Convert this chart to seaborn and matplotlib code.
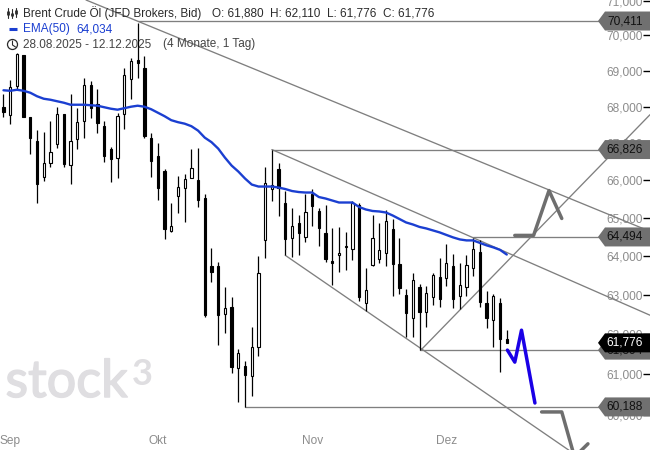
import matplotlib
matplotlib.use("Agg")
import matplotlib.pyplot as plt
import matplotlib.patheffects as pe
from matplotlib.patches import Polygon, Circle
from matplotlib.ticker import NullLocator
from matplotlib.transforms import Affine2D
import pandas as pd
import seaborn as sns

# Candles, index 0 = first visible session
opens = [68000, 67780, 68581, 69449, 67725, 67068, 66096, 66473, 66987, 67808, 66419, 67123, 67615, 68609, 68083, 67478,
         66852, 66608, 67808, 68776, 69308, 69084, 67150, 66662, 66258, 64639, 65589, 65802, 66070, 66016, 65536, 63728,
         63728, 62499, 62677, 61146, 61195, 60948, 61669, 64403, 65776, 66312, 65403, 64455, 64848, 64482, 65642, 65165,
         64587, 63857, 64013, 64221, 64169, 65324, 62779, 63754, 63909, 64065, 64691, 63780, 62983, 62398, 63188, 62550,
         62932, 63444, 63419, 63728, 62958, 63188, 63677, 64091, 62779, 62347, 62779, 61880]
highs = [68359, 68748, 69500, 69449, 67725, 67369, 67314, 67615, 68000, 67808, 68359, 67973, 68804, 68720, 68498, 67615,
         66906, 67835, 69084, 69365, 70356, 69421, 67287, 67014, 66312, 65403, 66123, 66177, 66852, 66879, 65642, 64195,
         63831, 63188, 62932, 61619, 61319, 62171, 63987, 66365, 66826, 66473, 65722, 65244, 65059, 65642, 65776, 65244,
         65350, 64717, 64743, 64613, 65456, 65377, 63677, 65059, 64848, 65191, 64954, 64455, 63137, 63548, 63265, 63214,
         63548, 63935, 64299, 64039, 63805, 64013, 64455, 64403, 63086, 63009, 62906, 62110]
lows = [67725, 67533, 68498, 67725, 66716, 65403, 65989, 66365, 66879, 66365, 65909, 66852, 67150, 67698, 67287, 66500,
        65962, 66070, 67396, 68221, 68804, 67150, 66096, 65483, 64429, 64613, 65112, 64875, 66070, 65271, 62423, 63316,
        61719, 62020, 61022, 60308, 60188, 60455, 61444, 63935, 65430, 65033, 64013, 63961, 64013, 64351, 64770, 64247,
        63831, 63239, 63574, 63625, 63883, 62830, 62576, 63728, 63805, 63728, 62958, 63009, 61919, 61919, 61594, 62171,
        62728, 62677, 63214, 62652, 62626, 62958, 63470, 62677, 62146, 61669, 61047, 61776]
closes = [67863, 68554, 69477, 67725, 67150, 65909, 66473, 66770, 67808, 66446, 67068, 67588, 68609, 67973, 67560, 66662,
          66581, 67753, 68888, 69280, 69224, 67205, 66527, 65802, 64691, 64770, 65829, 66043, 66339, 65483, 62474, 63574,
          62474, 62652, 61170, 61519, 60973, 61669, 63548, 65936, 65882, 65802, 64429, 64770, 64587, 65138, 65297, 64717,
          63909, 63805, 64065, 64247, 65403, 62932, 63111, 64455, 64143, 64901, 63780, 63162, 62525, 63367, 62550, 63035,
          63496, 62881, 63805, 62881, 63239, 63754, 64169, 62804, 62398, 62958, 61869, 61776]
ema50 = [68456, 68442, 68470, 68442, 68387, 68290, 68221, 68193, 68151, 68110, 68055, 68055, 68055, 68041, 68028, 67986,
         67945, 67918, 67959, 68000, 68028, 68000, 67931, 67835, 67739, 67629, 67574, 67533, 67464, 67342, 67150, 67027,
         66852, 66608, 66392, 66231, 66043, 65882, 65829, 65829, 65829, 65802, 65762, 65709, 65682, 65669, 65669, 65549,
         65509, 65456, 65403, 65403, 65403, 65284, 65218, 65178, 65165, 65138, 65059, 64967, 64875, 64822, 64757, 64717,
         64665, 64613, 64547, 64482, 64429, 64403, 64403, 64338, 64273, 64221, 64156, 64034]

# Axis
price_ticks = [71000, 70000, 69000, 68000, 67000, 66000, 65000, 64000, 63000, 62000, 61000, 60000]
price_labels = ["71,000", "70,000", "69,000", "68,000", "67,000", "66,000", "65,000", "64,000", "63,000", "62,000", "61,000", "60,000"]
month_pos = [1, 23, 46, 66]
month_labels = ["Sep", "Okt", "Nov", "Dez"]

# Drawn levels and trend lines (candle index, price)
levels = [(20, 70411), (40, 66826), (70, 64494), (62, 61594), (36, 60188)]
trend_lines = [
    ([12.3, 96.35], [71015, 64640]),
    ([40, 96.35], [66826, 62474]),
    ([42, 85.3], [64013, 59023]),
    ([62.2, 96.35], [61594, 67780]),
]
forecast_up_x = [76.2, 79.0, 81.3, 83.2]
forecast_up_y = [64534, 64534, 65722, 64980]
forecast_blue_x = [75.1, 76.2, 77.2, 79.2]
forecast_blue_y = [61594, 61294, 62095, 60284]
forecast_down_x = [80.2, 83.2, 85.1, 87.1]
forecast_down_y = [60065, 60065, 58975, 59292]

# Price tags on the right
tag_values = [70411, 66826, 64494, 61594, 61776, 60188]
tag_texts = ["70,411", "66,826", "64,494", "61,594", "61,776", "60,188"]

GREY = "#7f7f7f"
TAG_GREY = "#707070"
BLUE = "#1b3fd1"
W, H = 650, 450

sns.set_theme(style="white")
plt.rcParams["font.family"] = ["Liberation Sans", "DejaVu Sans"]

candles = pd.DataFrame({"open": opens, "high": highs, "low": lows, "close": closes})
candles["idx"] = candles.index
candles["up"] = candles["close"] > candles["open"]

fig = plt.figure(figsize=(6.5, 4.5), dpi=100, facecolor="white")
ax = fig.add_axes([0, 0, 1, 1])
ax.set_yscale("log")
pix = Affine2D().scale(1 / W, -1 / H).translate(0, 1) + ax.transAxes

# Watermark
mark = "#dfdee1"
thick = [pe.withStroke(linewidth=1.1, foreground=mark)]
ax.text(5.5, 397, "stock", transform=pix, fontsize=37.5, family="Lato", color=mark, va="baseline", zorder=0.5, path_effects=thick)
ax.text(132, 385, "3", transform=pix, fontsize=26, family="Lato", weight="bold", color=mark, va="baseline", zorder=0.5)

# Levels and trend lines
for start, value in levels:
    sns.lineplot(x=[start, 96.35], y=[value, value], ax=ax, color=GREY, linewidth=0.95, zorder=2)
for xs, ys in trend_lines:
    sns.lineplot(x=xs, y=ys, ax=ax, color=GREY, linewidth=0.95, zorder=2)

# Candles
ax.vlines(candles["idx"], candles["low"], candles["high"], color="black", linewidth=0.9, zorder=3)
body_low = candles[["open", "close"]].min(axis=1)
body_high = candles[["open", "close"]].max(axis=1)
ax.bar(candles["idx"], body_high - body_low, bottom=body_low, width=0.34,
       color=["white" if u else "black" for u in candles["up"]],
       edgecolor="black", linewidth=0.8, zorder=4)

# EMA and forecast paths
sns.lineplot(x=candles["idx"], y=ema50, ax=ax, color=BLUE, linewidth=1.7, zorder=5)
sns.lineplot(x=forecast_up_x, y=forecast_up_y, ax=ax, color="#6e6e6e", linewidth=2.5, zorder=5)
sns.lineplot(x=forecast_down_x, y=forecast_down_y, ax=ax, color="#6e6e6e", linewidth=2.5, zorder=5)
sns.lineplot(x=forecast_blue_x, y=forecast_blue_y, ax=ax, color="#1a00e6", linewidth=2.5, zorder=5)

ax.set_xlim(-0.52, 96.35)
ax.set_ylim(59143, 71015)
ax.set(xlabel="", ylabel="")

ax.yaxis.tick_right()
ax.set_yticks(price_ticks, labels=price_labels)
ax.yaxis.set_minor_locator(NullLocator())
ax.tick_params(axis="y", direction="in", length=5, width=1, color="black", pad=-5, labelsize=8.6, labelcolor="#8c8c8c")
for lab in ax.get_yticklabels():
    lab.set_ha("right")
ax.set_xticks(month_pos, labels=month_labels)
ax.tick_params(axis="x", direction="in", length=3, width=1, color="black", pad=-11, labelsize=8.6, labelcolor="#8c8c8c")
for side in ax.spines.values():
    side.set_visible(False)

# Price tags, pointed on the left
for value, label in zip(tag_values, tag_texts):
    last = value == closes[-1]
    y = (ax.transData + pix.inverted()).transform((0, value))[1]
    pts = [(598, y), (605, y - 9.5), (650, y - 9.5), (650, y + 9.5), (605, y + 9.5)]
    ax.add_patch(Polygon(pts, closed=True, transform=pix, clip_on=True,
                         facecolor="black" if last else TAG_GREY, edgecolor="none", zorder=7 if last else 6))
    ax.text(643, y, label, transform=pix, ha="right", va="center", fontsize=8.6,
            color="white" if last else "#111111", zorder=8 if last else 6.5)

# Header
dark = "#2b2b2b"
for x, txt in [(23, "Brent Crude Öl (JFD Brokers, Bid)"), (211.5, "O: 61,880"), (269.5, "H: 62,110"),
               (327, "L: 61,776"), (383, "C: 61,776")]:
    ax.text(x, 13, txt, transform=pix, fontsize=8.45, color=dark, va="center", zorder=9)
ax.text(23, 29, "EMA(50)", transform=pix, fontsize=8.45, color=BLUE, va="center", zorder=9)
ax.text(76, 29, "64,034", transform=pix, fontsize=8.45, color=BLUE, va="center", zorder=9)
ax.text(23, 44.5, "28.08.2025 - 12.12.2025", transform=pix, fontsize=8.45, color="#444444", va="center", zorder=9)
ax.text(163, 44.5, "(4 Monate, 1 Tag)", transform=pix, fontsize=8.45, color="#444444", va="center", zorder=9)

# Header icons
for x, y0, y1, b0, b1 in [(7.5, 8, 18, 11, 15), (12, 9, 18, 13, 16), (16, 8, 17, 10, 14)]:
    ax.plot([x, x], [y0, y1], transform=pix, color=dark, linewidth=0.8, zorder=9)
    ax.plot([x, x], [b0, b1], transform=pix, color=dark, linewidth=2, solid_capstyle="butt", zorder=9)
ax.plot([9, 17], [29, 29], transform=pix, color=BLUE, linewidth=2.2, solid_capstyle="butt", zorder=9)
ax.add_patch(Circle((12.5, 44.5), 5, transform=pix, facecolor="none", edgecolor=dark, linewidth=0.9, zorder=9))
ax.plot([12.5, 12.5, 15.5], [41, 45, 47], transform=pix, color=dark, linewidth=0.8, zorder=9)

fig.savefig("out.png", dpi=100, facecolor="white")
